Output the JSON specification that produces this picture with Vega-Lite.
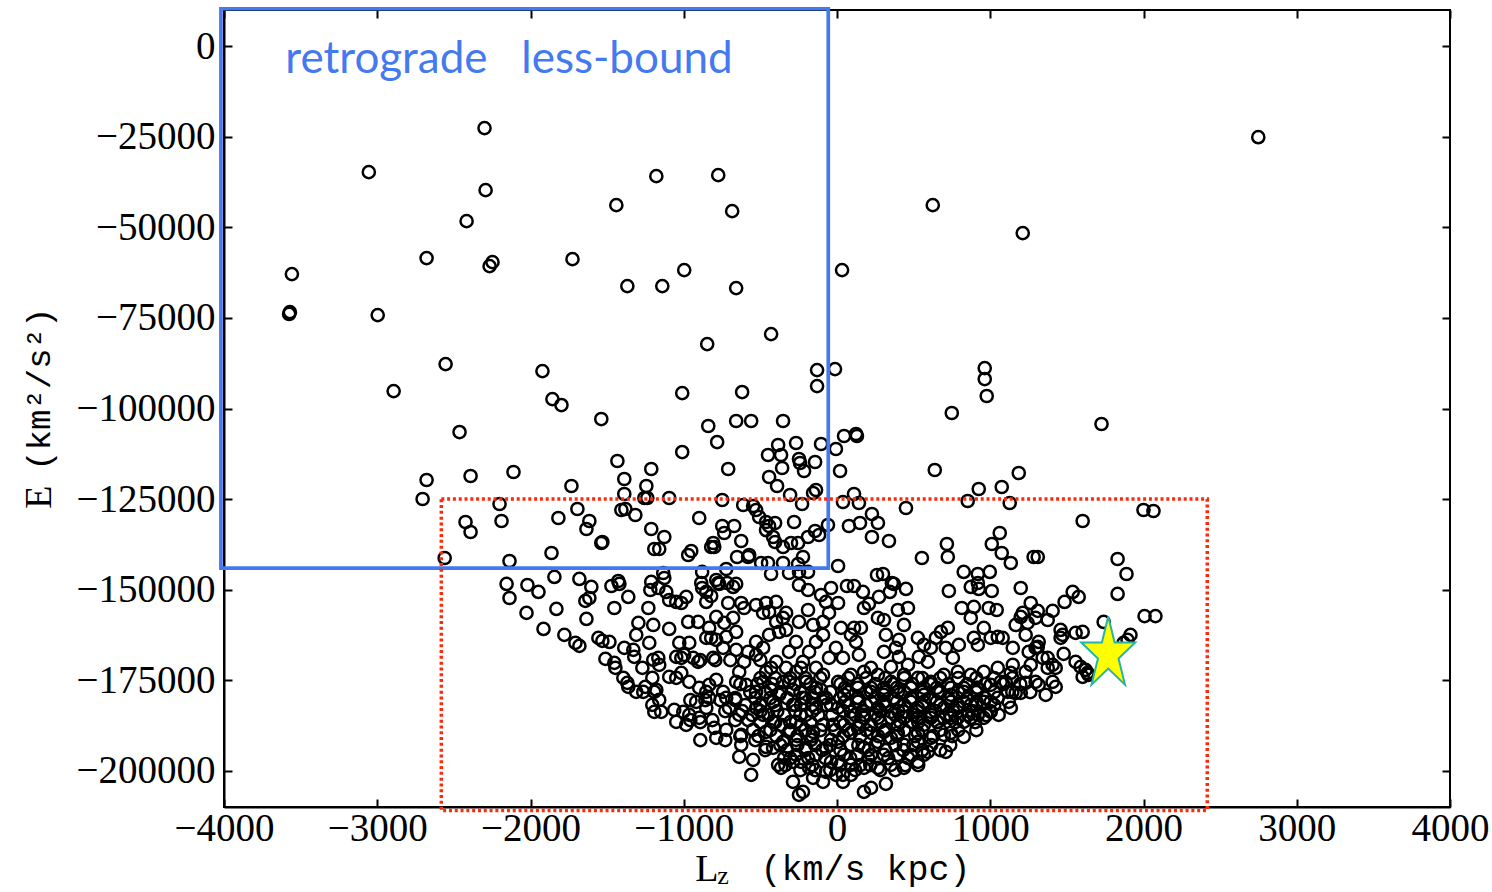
{
"$schema": "https://vega.github.io/schema/vega-lite/v6.json",
"width": 1226, "height": 797,
"autosize": {"type": "none"},
"padding": {"left": 224, "top": 10, "right": 42, "bottom": 85},
"background": "white",
"config": {"view": {"stroke": "black", "strokeWidth": 2}},
"datasets": {
"pts": [
{"Lz":-2300,"E":-22600},{"Lz":-3055,"E":-34760},{"Lz":-1179,"E":-35870},{"Lz":-775,"E":-35590},{"Lz":-2293,"E":-39730},{"Lz":-1440,"E":-43870},{"Lz":-2417,"E":-48280},{"Lz":-684,"E":-45520},{"Lz":625,"E":-43870},{"Lz":2749,"E":-25110},{"Lz":1212,"E":-51590},{"Lz":-3557,"E":-62900},{"Lz":-2678,"E":-58490},{"Lz":-2248,"E":-59600},{"Lz":-2267,"E":-60700},{"Lz":-1726,"E":-58770},{"Lz":-997,"E":-61800},{"Lz":33,"E":-61800},{"Lz":-1368,"E":-66220},{"Lz":-1140,"E":-66220},{"Lz":-658,"E":-66770},{"Lz":-3570,"E":-73400},{"Lz":-3575,"E":-73900},{"Lz":-2997,"E":-74220},{"Lz":-430,"E":-79460},{"Lz":-847,"E":-82220},{"Lz":-2554,"E":-87740},{"Lz":-1922,"E":-89670},{"Lz":-130,"E":-89390},{"Lz":-13,"E":-89120},{"Lz":-130,"E":-93810},{"Lz":-2893,"E":-95190},{"Lz":-1857,"E":-97400},{"Lz":-1798,"E":-99050},{"Lz":-619,"E":-95460},{"Lz":-1010,"E":-95740},{"Lz":964,"E":-88840},{"Lz":964,"E":-91870},{"Lz":977,"E":-96560},{"Lz":-1538,"E":-102910},{"Lz":-840,"E":-104840},{"Lz":-658,"E":-103460},{"Lz":-560,"E":-103460},{"Lz":-352,"E":-103460},{"Lz":749,"E":-101250},{"Lz":1726,"E":-104290},{"Lz":-2463,"E":-106500},{"Lz":-782,"E":-109260},{"Lz":-384,"E":-110080},{"Lz":-267,"E":-109530},{"Lz":-104,"E":-109810},
{"Lz":-2678,"E":-119740},{"Lz":-2704,"E":-124980},{"Lz":-2391,"E":-118640},{"Lz":-2424,"E":-131330},{"Lz":-2391,"E":-134090},{"Lz":-2560,"E":-141260},
{"Lz":-2111,"E":-117530},{"Lz":-1733,"E":-121400},{"Lz":-1433,"E":-114500},{"Lz":-1388,"E":-119460},{"Lz":-1212,"E":-116710},{"Lz":-1244,"E":-121400},{"Lz":-1388,"E":-123600},{"Lz":-1257,"E":-124710},{"Lz":-1238,"E":-124710},{"Lz":-2202,"E":-126360},{"Lz":-2189,"E":-131050},{"Lz":-1694,"E":-127740},{"Lz":-1818,"E":-130220},{"Lz":-1616,"E":-131050},{"Lz":-1635,"E":-133260},{"Lz":-1407,"E":-128020},{"Lz":-1381,"E":-127740},{"Lz":-1316,"E":-129400},{"Lz":-1212,"E":-133260},{"Lz":-1538,"E":-137120},{"Lz":-1531,"E":-136850},{"Lz":-1863,"E":-139880},{"Lz":-2137,"E":-142090},{"Lz":-1192,"E":-138780},{"Lz":-2156,"E":-148430},{"Lz":-2020,"E":-148710},{"Lz":-1948,"E":-150640},{"Lz":-2137,"E":-152300},{"Lz":-1844,"E":-146500},{"Lz":-1681,"E":-147050},{"Lz":-1603,"E":-149260},{"Lz":-1472,"E":-148990},{"Lz":-1427,"E":-147610},{"Lz":-1420,"E":-148430},{"Lz":-1616,"E":-152300},{"Lz":-1642,"E":-153120},{"Lz":-1362,"E":-152020},{"Lz":-1212,"E":-147880},{"Lz":-1218,"E":-150090},{"Lz":-2026,"E":-156430},{"Lz":-1831,"E":-155330},{"Lz":-1453,"E":-155060},{"Lz":-1231,"E":-155060},
{"Lz":-1010,"E":-112020},{"Lz":-450,"E":-112840},{"Lz":-365,"E":-112840},{"Lz":-248,"E":-113950},{"Lz":-241,"E":-115050},{"Lz":-143,"E":-114770},{"Lz":-358,"E":-116430},{"Lz":-215,"E":-117260},{"Lz":-710,"E":-116710},{"Lz":-443,"E":-118910},{"Lz":-391,"E":-121400},{"Lz":-137,"E":-122500},{"Lz":-156,"E":-123330},{"Lz":-306,"E":-123880},{"Lz":-228,"E":-126360},{"Lz":-1095,"E":-124710},{"Lz":-749,"E":-125260},{"Lz":-612,"E":-126640},{"Lz":-547,"E":-126910},{"Lz":-528,"E":-128020},{"Lz":-508,"E":-129950},{"Lz":-463,"E":-131330},{"Lz":-443,"E":-132430},{"Lz":-404,"E":-131600},{"Lz":-463,"E":-133540},{"Lz":-280,"E":-131330},{"Lz":-899,"E":-130220},{"Lz":-749,"E":-132430},{"Lz":-671,"E":-132430},{"Lz":-736,"E":-134360},{"Lz":-625,"E":-136570},{"Lz":-417,"E":-135470},{"Lz":-404,"E":-136850},{"Lz":-352,"E":-138230},{"Lz":-300,"E":-137120},{"Lz":-254,"E":-137120},{"Lz":-189,"E":-135470},{"Lz":-143,"E":-133810},{"Lz":-117,"E":-134920},{"Lz":-59,"E":-132160},{"Lz":-808,"E":-137120},{"Lz":-801,"E":-138230},{"Lz":-821,"E":-138230},{"Lz":-951,"E":-139330},{"Lz":-971,"E":-140430},{"Lz":-1127,"E":-135470},{"Lz":-1160,"E":-138780},{"Lz":-652,"E":-140980},{"Lz":-580,"E":-140980},{"Lz":-573,"E":-140430},{"Lz":-495,"E":-142640},{"Lz":-450,"E":-142640},{"Lz":-352,"E":-142640},{"Lz":-254,"E":-142920},{"Lz":-222,"E":-140980},{"Lz":-189,"E":-145120},{"Lz":-248,"E":-145120},{"Lz":-313,"E":-145400},{"Lz":-430,"E":-145680},{"Lz":-723,"E":-144300},{"Lz":-880,"E":-145120},{"Lz":-1134,"E":-145400},{"Lz":-1127,"E":-146780},{"Lz":-886,"E":-148160},{"Lz":-880,"E":-149540},{"Lz":-853,"E":-150640},{"Lz":-788,"E":-147330},{"Lz":-775,"E":-148160},{"Lz":-769,"E":-148430},{"Lz":-658,"E":-148430},{"Lz":-678,"E":-149260},{"Lz":-717,"E":-148160},{"Lz":-1166,"E":-149540},{"Lz":-248,"E":-148710},{"Lz":-189,"E":-150090},{"Lz":-1114,"E":-150640},{"Lz":-1095,"E":-152850},{"Lz":-984,"E":-152020},{"Lz":-1049,"E":-153400},{"Lz":-1016,"E":-153680},{"Lz":-821,"E":-151750},{"Lz":-710,"E":-153680},{"Lz":-625,"E":-153680},{"Lz":-606,"E":-155060},{"Lz":-528,"E":-154230},{"Lz":-463,"E":-153680},{"Lz":-397,"E":-153400},{"Lz":-443,"E":-156160},{"Lz":-332,"E":-156430},{"Lz":-482,"E":-156430},{"Lz":-853,"E":-153400},{"Lz":-104,"E":-151470},{"Lz":-72,"E":-153400},{"Lz":-189,"E":-155610},{"Lz":-52,"E":-156430},
{"Lz":46,"E":-107600},{"Lz":124,"E":-107050},{"Lz":130,"E":-107600},{"Lz":-7,"E":-111190},{"Lz":20,"E":-117260},{"Lz":638,"E":-116980},{"Lz":111,"E":-123600},{"Lz":39,"E":-125810},{"Lz":143,"E":-126090},{"Lz":450,"E":-127470},{"Lz":925,"E":-122220},{"Lz":1075,"E":-121670},{"Lz":853,"E":-125530},{"Lz":228,"E":-129120},{"Lz":267,"E":-131600},{"Lz":150,"E":-131600},{"Lz":78,"E":-132430},{"Lz":228,"E":-135470},{"Lz":339,"E":-136570},{"Lz":717,"E":-137400},{"Lz":723,"E":-140980},{"Lz":554,"E":-141260},{"Lz":7,"E":-143470},{"Lz":261,"E":-145950},{"Lz":300,"E":-145680},{"Lz":827,"E":-145120},{"Lz":919,"E":-145680},{"Lz":997,"E":-145120},{"Lz":1062,"E":-134360},{"Lz":1010,"E":-137400},{"Lz":1075,"E":-139880},{"Lz":65,"E":-148990},{"Lz":111,"E":-148990},{"Lz":169,"E":-150640},{"Lz":358,"E":-148160},{"Lz":371,"E":-148430},{"Lz":450,"E":-149810},{"Lz":345,"E":-150640},{"Lz":274,"E":-152020},{"Lz":730,"E":-150370},{"Lz":873,"E":-149260},{"Lz":925,"E":-149810},{"Lz":919,"E":-148160},{"Lz":1010,"E":-150370},{"Lz":7,"E":-153680},{"Lz":176,"E":-155060},{"Lz":208,"E":-153950},{"Lz":814,"E":-155060},{"Lz":893,"E":-154780},{"Lz":990,"E":-155060},{"Lz":1042,"E":-155610},{"Lz":-39,"E":-149540},{"Lz":397,"E":-155610},{"Lz":463,"E":-155060},
{"Lz":1186,"E":-117810},{"Lz":1127,"E":-126090},{"Lz":2000,"E":-128020},{"Lz":2065,"E":-128290},{"Lz":1603,"E":-131050},{"Lz":1283,"E":-140980},{"Lz":1310,"E":-140980},{"Lz":1134,"E":-142640},{"Lz":1831,"E":-141540},{"Lz":1889,"E":-145680},{"Lz":1831,"E":-151190},{"Lz":1199,"E":-149540},{"Lz":1538,"E":-150640},{"Lz":1577,"E":-152020},{"Lz":1485,"E":-153400},{"Lz":1264,"E":-153680},{"Lz":1310,"E":-155880},{"Lz":1407,"E":-155880},{"Lz":1212,"E":-156430},{"Lz":2007,"E":-157300},{"Lz":2078,"E":-157300},
{"Lz":-1915,"E":-160850},{"Lz":-1779,"E":-162500},{"Lz":-1707,"E":-164710},{"Lz":-1681,"E":-165540},{"Lz":-1635,"E":-158090},{"Lz":-1557,"E":-163330},{"Lz":-1531,"E":-164160},{"Lz":-1485,"E":-164440},{"Lz":-1511,"E":-169130},{"Lz":-1453,"E":-170230},{"Lz":-1446,"E":-171610},{"Lz":-1388,"E":-166090},{"Lz":-1329,"E":-166640},{"Lz":-1323,"E":-168570},{"Lz":-1310,"E":-162500},{"Lz":-1296,"E":-159190},{"Lz":-1225,"E":-164710},{"Lz":-1270,"E":-171610},{"Lz":-1394,"E":-174370},{"Lz":-1368,"E":-175750},{"Lz":-1362,"E":-176850},{"Lz":-1310,"E":-178230},{"Lz":-1264,"E":-178230},{"Lz":-1251,"E":-176850},{"Lz":-1205,"E":-174370},{"Lz":-1199,"E":-169400},{"Lz":-1199,"E":-159750},{"Lz":-1205,"E":-181820},{"Lz":-1192,"E":-183750},{"Lz":-1192,"E":-178230},
{"Lz":-971,"E":-158920},{"Lz":-906,"E":-158920},{"Lz":-834,"E":-160570},{"Lz":-736,"E":-159190},{"Lz":-788,"E":-157540},{"Lz":-678,"E":-157810},{"Lz":-1095,"E":-160850},{"Lz":-1029,"E":-164710},{"Lz":-964,"E":-164710},{"Lz":-853,"E":-163330},{"Lz":-821,"E":-163330},{"Lz":-788,"E":-163880},{"Lz":-723,"E":-163060},{"Lz":-658,"E":-161680},{"Lz":-1166,"E":-168850},{"Lz":-1160,"E":-170780},{"Lz":-1049,"E":-168570},{"Lz":-1016,"E":-168850},{"Lz":-997,"E":-168020},{"Lz":-938,"E":-168850},{"Lz":-906,"E":-169950},{"Lz":-808,"E":-168850},{"Lz":-743,"E":-166090},{"Lz":-658,"E":-166640},{"Lz":-1095,"E":-174090},{"Lz":-1049,"E":-174370},{"Lz":-1016,"E":-172990},{"Lz":-964,"E":-175470},{"Lz":-899,"E":-177130},{"Lz":-834,"E":-176300},{"Lz":-788,"E":-174920},{"Lz":-1160,"E":-180440},{"Lz":-1147,"E":-183750},{"Lz":-1179,"E":-177680},{"Lz":-1062,"E":-183200},{"Lz":-1049,"E":-186510},{"Lz":-984,"E":-187340},{"Lz":-964,"E":-184580},{"Lz":-899,"E":-185400},{"Lz":-1003,"E":-183750},{"Lz":-834,"E":-179890},{"Lz":-853,"E":-178230},{"Lz":-743,"E":-178230},{"Lz":-723,"E":-179890},{"Lz":-658,"E":-175470},{"Lz":-638,"E":-172710},{"Lz":-606,"E":-169950},{"Lz":-580,"E":-167190},{"Lz":-528,"E":-164440},{"Lz":-482,"E":-166090},{"Lz":-443,"E":-162500},{"Lz":-378,"E":-161680},{"Lz":-397,"E":-158920},{"Lz":-332,"E":-161130},{"Lz":-352,"E":-157810},{"Lz":-801,"E":-188160},{"Lz":-723,"E":-188720},{"Lz":-788,"E":-190920},{"Lz":-625,"E":-190100},{"Lz":-547,"E":-188720},{"Lz":-625,"E":-192850},{"Lz":-638,"E":-196160},{"Lz":-547,"E":-196990},{"Lz":-560,"E":-201130},{"Lz":-463,"E":-189270},{"Lz":-463,"E":-193410},{"Lz":-384,"E":-198370},{"Lz":-365,"E":-199200},{"Lz":-345,"E":-196440},{"Lz":-287,"E":-203060},{"Lz":-248,"E":-206650},{"Lz":-222,"E":-205820},{"Lz":-182,"E":-199200},{"Lz":-156,"E":-201960},{"Lz":-91,"E":-203060},{"Lz":-72,"E":-200300},{"Lz":-528,"E":-182650},{"Lz":-482,"E":-184580},{"Lz":-417,"E":-180990},{"Lz":-378,"E":-179060},{"Lz":-313,"E":-175470},{"Lz":-267,"E":-172710},{"Lz":-222,"E":-169950},{"Lz":-182,"E":-167190},{"Lz":-137,"E":-164440},{"Lz":-91,"E":-162500},{"Lz":-248,"E":-158920},{"Lz":-156,"E":-159750},{"Lz":-91,"E":-158920},{"Lz":-482,"E":-175470},{"Lz":-528,"E":-178230},{"Lz":-463,"E":-172710},{"Lz":-397,"E":-169950},{"Lz":-313,"E":-167190},{"Lz":-267,"E":-164440},{"Lz":-352,"E":-175470},{"Lz":-202,"E":-175470},{"Lz":-137,"E":-177130},{"Lz":-91,"E":-173540},{"Lz":-72,"E":-179890},{"Lz":-137,"E":-182650},{"Lz":-202,"E":-184580},{"Lz":-267,"E":-186510},{"Lz":-313,"E":-189270},{"Lz":-352,"E":-192030},{"Lz":-417,"E":-186510},{"Lz":-156,"E":-189270},{"Lz":-91,"E":-187340},{"Lz":-72,"E":-193680},{"Lz":-202,"E":-193680},{"Lz":-267,"E":-195610},{"Lz":-137,"E":-195610},{"Lz":-52,"E":-168850},{"Lz":-417,"E":-193680},{"Lz":-222,"E":-179890},{"Lz":-156,"E":-179890},{"Lz":-528,"E":-168020},{"Lz":-638,"E":-184580},{"Lz":-593,"E":-176300},{"Lz":-704,"E":-182650},{"Lz":-919,"E":-180990},{"Lz":-853,"E":-182650},
{"Lz":267,"E":-157810},{"Lz":306,"E":-158370},{"Lz":437,"E":-159750},{"Lz":26,"E":-160570},{"Lz":111,"E":-160570},{"Lz":156,"E":-160570},{"Lz":91,"E":-162500},{"Lz":124,"E":-164440},{"Lz":319,"E":-162500},{"Lz":404,"E":-163880},{"Lz":384,"E":-166090},{"Lz":306,"E":-167190},{"Lz":404,"E":-168570},{"Lz":528,"E":-163330},{"Lz":567,"E":-165260},{"Lz":612,"E":-166090},{"Lz":645,"E":-163330},{"Lz":678,"E":-161680},{"Lz":723,"E":-160570},{"Lz":710,"E":-166090},{"Lz":756,"E":-168850},{"Lz":795,"E":-165260},{"Lz":893,"E":-163330},{"Lz":958,"E":-160570},{"Lz":1003,"E":-163330},{"Lz":1049,"E":-163060},{"Lz":1081,"E":-163330},{"Lz":919,"E":-165260},{"Lz":873,"E":-157810},{"Lz":39,"E":-168850},{"Lz":-7,"E":-166090},{"Lz":143,"E":-168020},{"Lz":534,"E":-168570},{"Lz":593,"E":-169950},{"Lz":463,"E":-170780},{"Lz":352,"E":-171330},{"Lz":222,"E":-171610},
{"Lz":7,"E":-175470},{"Lz":91,"E":-173540},{"Lz":176,"E":-172710},{"Lz":267,"E":-173540},{"Lz":352,"E":-175470},{"Lz":437,"E":-173540},{"Lz":528,"E":-174370},{"Lz":612,"E":-175470},{"Lz":697,"E":-173540},{"Lz":788,"E":-172710},{"Lz":873,"E":-173540},{"Lz":958,"E":-172710},{"Lz":1049,"E":-171610},{"Lz":46,"E":-179060},{"Lz":137,"E":-179890},{"Lz":222,"E":-178230},{"Lz":306,"E":-179060},{"Lz":397,"E":-178230},{"Lz":482,"E":-179890},{"Lz":567,"E":-179060},{"Lz":658,"E":-178230},{"Lz":743,"E":-179060},{"Lz":827,"E":-178230},{"Lz":919,"E":-177130},{"Lz":1003,"E":-176300},{"Lz":1068,"E":-175470},{"Lz":7,"E":-182650},{"Lz":91,"E":-183750},{"Lz":176,"E":-184580},{"Lz":267,"E":-182650},{"Lz":352,"E":-183750},{"Lz":437,"E":-183750},{"Lz":528,"E":-182650},{"Lz":612,"E":-183750},{"Lz":697,"E":-182650},{"Lz":788,"E":-182650},{"Lz":873,"E":-181820},{"Lz":958,"E":-180990},{"Lz":1049,"E":-179890},{"Lz":46,"E":-187340},{"Lz":137,"E":-188160},{"Lz":222,"E":-187340},{"Lz":306,"E":-189270},{"Lz":397,"E":-187340},{"Lz":482,"E":-186510},{"Lz":567,"E":-187340},{"Lz":658,"E":-186510},{"Lz":743,"E":-185400},{"Lz":827,"E":-186510},{"Lz":919,"E":-184580},{"Lz":1003,"E":-183750},{"Lz":1055,"E":-184580},{"Lz":7,"E":-192030},{"Lz":91,"E":-192850},{"Lz":176,"E":-193680},{"Lz":267,"E":-192030},{"Lz":352,"E":-190920},{"Lz":437,"E":-192850},{"Lz":528,"E":-192030},{"Lz":612,"E":-190920},{"Lz":697,"E":-190100},{"Lz":827,"E":-190650},{"Lz":710,"E":-194790},{"Lz":7,"E":-197540},{"Lz":91,"E":-198370},{"Lz":176,"E":-199200},{"Lz":267,"E":-199200},{"Lz":352,"E":-198370},{"Lz":437,"E":-199200},{"Lz":528,"E":-197540},{"Lz":593,"E":-194790},{"Lz":39,"E":-201130},{"Lz":39,"E":-203060},{"Lz":176,"E":-205820},{"Lz":222,"E":-204720},{"Lz":319,"E":-203610},
{"Lz":1740,"E":-158920},{"Lz":1166,"E":-159750},{"Lz":1244,"E":-159190},{"Lz":1199,"E":-157540},{"Lz":1296,"E":-157810},{"Lz":1375,"E":-158370},{"Lz":1459,"E":-161130},{"Lz":1472,"E":-162500},{"Lz":1459,"E":-163330},{"Lz":1557,"E":-161950},{"Lz":1603,"E":-161680},{"Lz":1915,"E":-162500},{"Lz":1896,"E":-163880},{"Lz":1870,"E":-164710},{"Lz":1231,"E":-162500},{"Lz":1316,"E":-164440},{"Lz":1310,"E":-165820},{"Lz":1296,"E":-166090},{"Lz":1251,"E":-167190},{"Lz":1147,"E":-166090},{"Lz":1479,"E":-167740},{"Lz":1342,"E":-168850},{"Lz":1375,"E":-168850},{"Lz":1407,"E":-170780},{"Lz":1427,"E":-171610},{"Lz":1375,"E":-171610},{"Lz":1557,"E":-169950},{"Lz":1590,"E":-171330},{"Lz":1622,"E":-172160},{"Lz":1635,"E":-172990},{"Lz":1603,"E":-174090},{"Lz":1642,"E":-173540},{"Lz":1264,"E":-170780},{"Lz":1231,"E":-172710},{"Lz":1147,"E":-170780},{"Lz":1134,"E":-172990},{"Lz":1296,"E":-175470},{"Lz":1231,"E":-175750},{"Lz":1316,"E":-176300},{"Lz":1407,"E":-175470},{"Lz":1427,"E":-176850},{"Lz":1362,"E":-179060},{"Lz":1114,"E":-178230},{"Lz":1166,"E":-178510},{"Lz":1199,"E":-178510},{"Lz":1121,"E":-180990},{"Lz":1134,"E":-182650},{"Lz":1101,"E":-175470},
{"Lz":52,"E":-177130},{"Lz":137,"E":-177130},{"Lz":222,"E":-177130},{"Lz":306,"E":-177130},{"Lz":391,"E":-177130},{"Lz":482,"E":-177130},{"Lz":567,"E":-177130},{"Lz":651,"E":-177130},{"Lz":743,"E":-177130},{"Lz":827,"E":-177130},{"Lz":912,"E":-177130},
{"Lz":52,"E":-180990},{"Lz":137,"E":-180990},{"Lz":222,"E":-180990},{"Lz":306,"E":-180990},{"Lz":391,"E":-180990},{"Lz":482,"E":-180990},{"Lz":567,"E":-180990},{"Lz":651,"E":-180990},{"Lz":743,"E":-180990},{"Lz":827,"E":-180990},{"Lz":912,"E":-180990},{"Lz":1003,"E":-180990},
{"Lz":91,"E":-185400},{"Lz":176,"E":-185400},{"Lz":267,"E":-185400},{"Lz":352,"E":-185400},{"Lz":437,"E":-185400},{"Lz":528,"E":-185400},{"Lz":612,"E":-185400},{"Lz":697,"E":-185400},{"Lz":788,"E":-185400},{"Lz":873,"E":-185400},{"Lz":958,"E":-185400},
{"Lz":91,"E":-189540},{"Lz":222,"E":-189540},{"Lz":397,"E":-189540},{"Lz":528,"E":-189540},{"Lz":743,"E":-189540},
{"Lz":46,"E":-195610},{"Lz":137,"E":-195610},{"Lz":222,"E":-195610},{"Lz":306,"E":-195610},{"Lz":397,"E":-195610},{"Lz":482,"E":-195610},{"Lz":567,"E":-195610},
{"Lz":-430,"E":-171610},{"Lz":-332,"E":-171610},{"Lz":-235,"E":-171610},{"Lz":-137,"E":-171610},{"Lz":-430,"E":-177680},{"Lz":-287,"E":-177680},{"Lz":-104,"E":-177680},{"Lz":-287,"E":-181820},{"Lz":-235,"E":-181820},{"Lz":-39,"E":-181820},{"Lz":-365,"E":-187340},{"Lz":-235,"E":-187340},{"Lz":-26,"E":-187340},{"Lz":-267,"E":-191470},{"Lz":-169,"E":-191470},{"Lz":-39,"E":-191470},{"Lz":-287,"E":-197540},{"Lz":-235,"E":-197540},{"Lz":-39,"E":-197540},{"Lz":-7,"E":-201130},{"Lz":91,"E":-201130},
{"Lz":-500,"E":-174430},{"Lz":-403,"E":-174430},{"Lz":-305,"E":-174430},{"Lz":-207,"E":-174430},{"Lz":-109,"E":-174430},{"Lz":74,"E":-174430},{"Lz":191,"E":-174430},{"Lz":315,"E":-174430},{"Lz":439,"E":-174430},{"Lz":557,"E":-174430},{"Lz":674,"E":-174430},{"Lz":791,"E":-174430},{"Lz":909,"E":-174430},{"Lz":1026,"E":-174430},{"Lz":1144,"E":-174430},
{"Lz":-566,"E":-178300},{"Lz":-468,"E":-178300},{"Lz":-370,"E":-178300},{"Lz":-239,"E":-178300},{"Lz":-142,"E":-178300},{"Lz":-44,"E":-178300},{"Lz":74,"E":-178300},{"Lz":191,"E":-178300},{"Lz":315,"E":-178300},{"Lz":439,"E":-178300},{"Lz":557,"E":-178300},{"Lz":674,"E":-178300},{"Lz":791,"E":-178300},{"Lz":909,"E":-178300},{"Lz":1026,"E":-178300},{"Lz":1144,"E":-178300},{"Lz":1261,"E":-178300},
{"Lz":-598,"E":-181880},{"Lz":-500,"E":-181880},{"Lz":-403,"E":-181880},{"Lz":-272,"E":-181880},{"Lz":-161,"E":-181880},{"Lz":-70,"E":-181880},{"Lz":74,"E":-181880},{"Lz":191,"E":-181880},{"Lz":315,"E":-181880},{"Lz":439,"E":-181880},{"Lz":557,"E":-181880},{"Lz":674,"E":-181880},{"Lz":791,"E":-181880},{"Lz":909,"E":-181880},{"Lz":1026,"E":-181880},
{"Lz":-553,"E":-184640},{"Lz":-448,"E":-184640},{"Lz":-344,"E":-184640},{"Lz":-239,"E":-184640},{"Lz":-122,"E":-184640},{"Lz":-31,"E":-184640},{"Lz":119,"E":-184640},{"Lz":250,"E":-184640},{"Lz":380,"E":-184640},{"Lz":498,"E":-184640},{"Lz":615,"E":-184640},{"Lz":739,"E":-184640},{"Lz":857,"E":-184640},{"Lz":974,"E":-184640},
{"Lz":-435,"E":-188780},{"Lz":-305,"E":-188780},{"Lz":-207,"E":-188780},{"Lz":-109,"E":-188780},{"Lz":-11,"E":-188780},{"Lz":74,"E":-188780},{"Lz":191,"E":-188780},{"Lz":315,"E":-188780},{"Lz":439,"E":-188780},{"Lz":557,"E":-188780},{"Lz":674,"E":-188780},{"Lz":791,"E":-188780},{"Lz":909,"E":-188780},
{"Lz":-370,"E":-192920},{"Lz":-259,"E":-192920},{"Lz":-142,"E":-192920},{"Lz":-44,"E":-192920},{"Lz":139,"E":-192920},{"Lz":250,"E":-192920},{"Lz":380,"E":-192920},{"Lz":498,"E":-192920},{"Lz":615,"E":-192920},{"Lz":739,"E":-192920},
{"Lz":-305,"E":-196510},{"Lz":-187,"E":-196510},{"Lz":-76,"E":-196510},{"Lz":87,"E":-196510},{"Lz":204,"E":-196510},{"Lz":335,"E":-196510},{"Lz":465,"E":-196510},
{"Lz":-239,"E":-199820},{"Lz":-142,"E":-199820},{"Lz":-44,"E":-199820},{"Lz":119,"E":-199820},{"Lz":283,"E":-199820},{"Lz":380,"E":-199820},
{"Lz":-892,"E":-169460},{"Lz":-794,"E":-169460},{"Lz":-696,"E":-169460},{"Lz":-500,"E":-169460},{"Lz":-957,"E":-180500},{"Lz":-859,"E":-180500},{"Lz":-761,"E":-180500},{"Lz":-664,"E":-180500},{"Lz":-957,"E":-186020},{"Lz":-813,"E":-186020},{"Lz":-664,"E":-186020},{"Lz":-579,"E":-186020},{"Lz":-892,"E":-191540},{"Lz":-729,"E":-191540},{"Lz":-533,"E":-191540},
{"Lz":-631,"E":-176090},{"Lz":-520,"E":-176090},{"Lz":-422,"E":-176090},{"Lz":-272,"E":-176090},{"Lz":-174,"E":-176090},{"Lz":22,"E":-176090},{"Lz":132,"E":-176090},{"Lz":250,"E":-176090},{"Lz":367,"E":-176090},{"Lz":491,"E":-176090},{"Lz":609,"E":-176090},{"Lz":726,"E":-176090},{"Lz":850,"E":-176090},{"Lz":967,"E":-176090},{"Lz":1085,"E":-176090},{"Lz":1196,"E":-176090},
{"Lz":-664,"E":-179950},{"Lz":-533,"E":-179950},{"Lz":-435,"E":-179950},{"Lz":-325,"E":-179950},{"Lz":-207,"E":-179950},{"Lz":-89,"E":-179950},{"Lz":22,"E":-179950},{"Lz":132,"E":-179950},{"Lz":250,"E":-179950},{"Lz":367,"E":-179950},{"Lz":491,"E":-179950},{"Lz":609,"E":-179950},{"Lz":726,"E":-179950},{"Lz":850,"E":-179950},{"Lz":967,"E":-179950},
{"Lz":-729,"E":-183540},{"Lz":-618,"E":-183540},{"Lz":-500,"E":-183540},{"Lz":-390,"E":-183540},{"Lz":-272,"E":-183540},{"Lz":-161,"E":-183540},{"Lz":41,"E":-183540},{"Lz":165,"E":-183540},{"Lz":283,"E":-183540},{"Lz":400,"E":-183540},{"Lz":524,"E":-183540},{"Lz":641,"E":-183540},{"Lz":758,"E":-183540},{"Lz":883,"E":-183540},{"Lz":1000,"E":-183540},
{"Lz":-892,"E":-186580},{"Lz":-500,"E":-186580},{"Lz":-403,"E":-186580},{"Lz":-305,"E":-186580},{"Lz":-174,"E":-186580},{"Lz":22,"E":-186580},{"Lz":152,"E":-186580},{"Lz":283,"E":-186580},{"Lz":413,"E":-186580},{"Lz":530,"E":-186580},{"Lz":654,"E":-186580},{"Lz":772,"E":-186580},{"Lz":902,"E":-186580},
{"Lz":-631,"E":-190440},{"Lz":-513,"E":-190440},{"Lz":-396,"E":-190440},{"Lz":-259,"E":-190440},{"Lz":-161,"E":-190440},{"Lz":41,"E":-190440},{"Lz":152,"E":-190440},{"Lz":269,"E":-190440},{"Lz":393,"E":-190440},{"Lz":511,"E":-190440},{"Lz":628,"E":-190440},{"Lz":752,"E":-190440},
{"Lz":-468,"E":-194300},{"Lz":-325,"E":-194300},{"Lz":-207,"E":-194300},{"Lz":-96,"E":-194300},{"Lz":22,"E":-194300},{"Lz":204,"E":-194300},{"Lz":315,"E":-194300},{"Lz":432,"E":-194300},{"Lz":557,"E":-194300},{"Lz":674,"E":-194300},
{"Lz":-337,"E":-198440},{"Lz":-161,"E":-198440},{"Lz":22,"E":-198440},{"Lz":152,"E":-198440},{"Lz":217,"E":-198440},{"Lz":445,"E":-198440},{"Lz":530,"E":-198440}
],
"bluebox": [{"Lz0":-4020,"Lz1":-57,"E0":10350,"E1":-144070}],
"redbox": [{"Lz0":-2582,"Lz1":2416,"E0":-125000,"E1":-211000}],
"marker": [{"Lz":1770,"E":-167800}],
"one": [{}]
},
"layer": [
{
"data": {"name": "pts"},
"mark": {"type": "point", "shape": "circle", "filled": false, "stroke": "black", "strokeWidth": 2.5, "size": 148, "opacity": 1},
"encoding": {
"x": {"field": "Lz", "type": "quantitative", "scale": {"domain": [-4000, 4000], "nice": false, "zero": false},
 "axis": {"orient": "bottom", "title": null, "values": [-4000,-3000,-2000,-1000,0,1000,2000,3000,4000], "format": "d", "grid": false, "tickSize": -8, "tickWidth": 2, "tickColor": "black", "domainColor": "black", "domainWidth": 2, "labelFont": "Liberation Serif", "labelFontSize": 39, "labelColor": "black", "labelPadding": 10, "labelFlush": false, "labelOverlap": false}},
"y": {"field": "E", "type": "quantitative", "scale": {"domain": [-210000, 10000], "nice": false, "zero": false},
 "axis": {"orient": "left", "title": null, "values": [0,-25000,-50000,-75000,-100000,-125000,-150000,-175000,-200000], "format": "d", "grid": false, "tickSize": -8, "tickWidth": 2, "tickColor": "black", "domainColor": "black", "domainWidth": 2, "labelFont": "Liberation Serif", "labelFontSize": 39, "labelColor": "black", "labelPadding": 17, "labelFlush": false, "labelOverlap": false}}
}
},
{
"data": {"name": "bluebox"},
"mark": {"type": "rect", "filled": false, "stroke": "#4479F0", "strokeWidth": 3.7},
"encoding": {
"x": {"field": "Lz0", "type": "quantitative", "scale": {"domain": [-4000, 4000], "nice": false, "zero": false},
 "axis": {"orient": "top", "title": null, "values": [-4000,-3000,-2000,-1000,0,1000,2000,3000,4000], "labels": false, "domain": false, "grid": false, "tickSize": -8, "tickWidth": 2, "tickColor": "black"}},
"x2": {"field": "Lz1"},
"y": {"field": "E0", "type": "quantitative", "scale": {"domain": [-210000, 10000], "nice": false, "zero": false},
 "axis": {"orient": "right", "title": null, "values": [0,-25000,-50000,-75000,-100000,-125000,-150000,-175000,-200000], "labels": false, "domain": false, "grid": false, "tickSize": -8, "tickWidth": 2, "tickColor": "black"}},
"y2": {"field": "E1"}
}
},
{
"data": {"name": "redbox"},
"mark": {"type": "rect", "filled": false, "stroke": "#FF2A0A", "strokeWidth": 3.5, "strokeDash": [3, 2.8], "strokeCap": "butt"},
"encoding": {
"x": {"field": "Lz0", "type": "quantitative", "scale": {"domain": [-4000, 4000], "nice": false, "zero": false}, "axis": null},
"x2": {"field": "Lz1"},
"y": {"field": "E0", "type": "quantitative", "scale": {"domain": [-210000, 10000], "nice": false, "zero": false}, "axis": null},
"y2": {"field": "E1"}
}
},
{
"data": {"name": "marker"},
"mark": {"type": "point", "shape": "M0,-1L0.169,-0.309L0.716,-0.309L0.273,0.118L0.443,0.809L0,0.382L-0.443,0.809L-0.273,0.118L-0.716,-0.309L-0.169,-0.309Z", "filled": true, "fill": "#FFFF00", "stroke": "#26B3A6", "strokeWidth": 2, "size": 5685, "opacity": 1, "fillOpacity": 1},
"encoding": {
"x": {"field": "Lz", "type": "quantitative", "scale": {"domain": [-4000, 4000], "nice": false, "zero": false}, "axis": null},
"y": {"field": "E", "type": "quantitative", "scale": {"domain": [-210000, 10000], "nice": false, "zero": false}, "axis": null}
}
},
{
"data": {"name": "one"},
"mark": {"type": "text", "text": "retrograde\u00a0\u00a0\u00a0less-bound", "font": "Lato", "fontSize": 44, "color": "#4479F0", "align": "left", "baseline": "alphabetic"},
"encoding": {
"x": {"datum": -3600, "type": "quantitative", "scale": {"domain": [-4000, 4000], "nice": false, "zero": false}, "axis": null},
"y": {"datum": -7450, "type": "quantitative", "scale": {"domain": [-210000, 10000], "nice": false, "zero": false}, "axis": null}
}
},
{
"data": {"name": "one"},
"mark": {"type": "text", "text": "E", "font": "Liberation Serif", "fontSize": 38, "color": "black", "align": "center", "baseline": "middle", "angle": 270},
"encoding": {
"x": {"datum": -5198, "type": "quantitative", "scale": {"domain": [-4000, 4000], "nice": false, "zero": false}, "axis": null},
"y": {"datum": -124480, "type": "quantitative", "scale": {"domain": [-210000, 10000], "nice": false, "zero": false}, "axis": null}
}
},
{
"data": {"name": "one"},
"mark": {"type": "text", "text": "(km²/s²)", "font": "Liberation Mono", "fontSize": 34, "color": "black", "align": "center", "baseline": "middle", "angle": 270},
"encoding": {
"x": {"datum": -5198, "type": "quantitative", "scale": {"domain": [-4000, 4000], "nice": false, "zero": false}, "axis": null},
"y": {"datum": -94670, "type": "quantitative", "scale": {"domain": [-210000, 10000], "nice": false, "zero": false}, "axis": null}
}
},
{
"data": {"name": "one"},
"mark": {"type": "text", "text": "L", "font": "Liberation Serif", "fontSize": 38, "color": "black", "align": "left", "baseline": "alphabetic"},
"encoding": {
"x": {"datum": -925, "type": "quantitative", "scale": {"domain": [-4000, 4000], "nice": false, "zero": false}, "axis": null},
"y": {"datum": -230450, "type": "quantitative", "scale": {"domain": [-210000, 10000], "nice": false, "zero": false}, "axis": null}
}
},
{
"data": {"name": "one"},
"mark": {"type": "text", "text": "z", "font": "Liberation Serif", "fontSize": 26, "color": "black", "align": "left", "baseline": "alphabetic"},
"encoding": {
"x": {"datum": -781, "type": "quantitative", "scale": {"domain": [-4000, 4000], "nice": false, "zero": false}, "axis": null},
"y": {"datum": -231290, "type": "quantitative", "scale": {"domain": [-210000, 10000], "nice": false, "zero": false}, "axis": null}
}
},
{
"data": {"name": "one"},
"mark": {"type": "text", "text": "(km/s kpc)", "font": "Liberation Mono", "fontSize": 35, "color": "black", "align": "left", "baseline": "alphabetic"},
"encoding": {
"x": {"datum": -500, "type": "quantitative", "scale": {"domain": [-4000, 4000], "nice": false, "zero": false}, "axis": null},
"y": {"datum": -230180, "type": "quantitative", "scale": {"domain": [-210000, 10000], "nice": false, "zero": false}, "axis": null}
}
}
],
"resolve": {"axis": {"x": "independent", "y": "independent"}}
}
